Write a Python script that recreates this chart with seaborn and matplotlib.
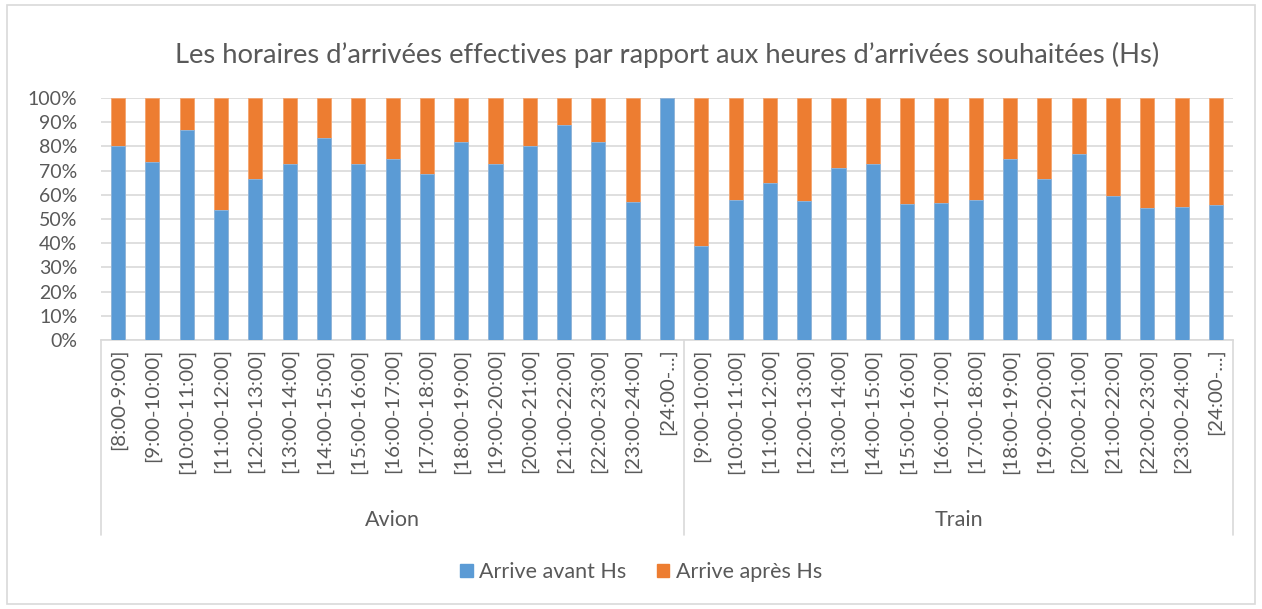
import matplotlib
matplotlib.use("Agg")
import matplotlib.pyplot as plt
from matplotlib.patches import Rectangle
import numpy as np
import pandas as pd
import seaborn as sns

## Data
avion_labels = ["[8:00-9:00]", "[9:00-10:00]", "[10:00-11:00]", "[11:00-12:00]",
                "[12:00-13:00]", "[13:00-14:00]", "[14:00-15:00]", "[15:00-16:00]",
                "[16:00-17:00]", "[17:00-18:00]", "[18:00-19:00]", "[19:00-20:00]",
                "[20:00-21:00]", "[21:00-22:00]", "[22:00-23:00]", "[23:00-24:00]",
                "[24:00-...]"]
avion_avant = [80, 73.6, 86.6, 53.7, 66.5, 72.6, 83.3, 72.6, 75, 68.7, 82, 72.6, 80, 88.8, 82, 57, 100]

train_labels = ["[9:00-10:00]", "[10:00-11:00]", "[11:00-12:00]", "[12:00-13:00]",
                "[13:00-14:00]", "[14:00-15:00]", "[15:00-16:00]", "[16:00-17:00]",
                "[17:00-18:00]", "[18:00-19:00]", "[19:00-20:00]", "[20:00-21:00]",
                "[21:00-22:00]", "[22:00-23:00]", "[23:00-24:00]", "[24:00-...]"]
train_avant = [38.7, 58, 64.9, 57.3, 71.1, 72.9, 56.3, 56.6, 57.8, 75, 66.7, 77, 59.5, 54.6, 55, 55.6]

groups = ["Avion", "Train"]
series = ["Arrive avant Hs", "Arrive après Hs"]

## Build table
df = pd.DataFrame({
    "label": avion_labels + train_labels,
    "groupe": [groups[0]] * len(avion_labels) + [groups[1]] * len(train_labels),
    "avant": avion_avant + train_avant,
})
df["pos"] = np.arange(len(df))
df["total"] = 100.0  # avant + apres stacked to 100%

blue = "#5B9BD5"
orange = "#ED7D31"
txt = "#595959"
grid = "#D9D9D9"

sns.set_style("white")
plt.rcParams["font.family"] = ["Lato", "DejaVu Sans"]

fig = plt.figure(figsize=(12.62, 6.09), dpi=100)
ax = fig.add_axes([101 / 1262, 1 - 340 / 609, (1233 - 101) / 1262, (340 - 98) / 609])

# orange bar (full height) then blue bar on top of it
sns.barplot(data=df, x="pos", y="total", color=orange, width=0.41, ax=ax,
            saturation=1, edgecolor="#F4A46E", linewidth=0.6, zorder=2)
sns.barplot(data=df, x="pos", y="avant", color=blue, width=0.41, ax=ax,
            saturation=1, edgecolor="#8DB9E3", linewidth=0.6, zorder=3)

ax.set_ylim(0, 100)
ax.set_xlim(-0.5, len(df) - 0.5)
ax.set_yticks(np.arange(0, 101, 10))
ax.set_yticklabels([f"{v}%" for v in range(0, 101, 10)], color=txt, fontsize=14)
ax.yaxis.grid(True, color=grid, linewidth=1.2, zorder=0)
ax.set_axisbelow(True)

ax.set_xticks(df["pos"])
ax.set_xticklabels(df["label"], rotation=90, color=txt, fontsize=14.7, va="top")
ax.tick_params(axis="both", length=0, pad=6)
ax.tick_params(axis="y", pad=17)
ax.set_xlabel("")
ax.set_ylabel("")

for s in ["top", "right", "left"]:
    ax.spines[s].set_visible(False)
ax.spines["bottom"].set_color(grid)
ax.spines["bottom"].set_linewidth(1.2)

# multi-level category axis: separators and group names
tr = ax.get_xaxis_transform()
n_av = len(avion_labels)
for xb in [-0.5, n_av - 0.5, len(df) - 0.5]:
    ax.plot([xb, xb], [0, -0.805], transform=tr, color=grid, linewidth=1.2, clip_on=False)
ax.text((n_av - 1) / 2, -0.745, groups[0], transform=tr, ha="center", va="center",
        color=txt, fontsize=15.5)
ax.text(n_av + (len(train_labels) - 1) / 2, -0.745, groups[1], transform=tr,
        ha="center", va="center", color=txt, fontsize=15.5)

# title, centred over the plot area
fig.text(667 / 1262, 1 - 55 / 609, "Les horaires d\u2019arrivées effectives par rapport aux heures d\u2019arrivées souhaitées (Hs)",
         ha="center", va="center", color=txt, fontsize=19.7)

# legend
handles = [Rectangle((0, 0), 1, 1, color=blue), Rectangle((0, 0), 1, 1, color=orange)]
fig.legend(handles, series, loc="center", bbox_to_anchor=(641 / 1262, 1 - 572 / 609), ncol=2,
           frameon=False, fontsize=15.5, handlelength=0.6, handleheight=0.6,
           handletextpad=0.3, columnspacing=1.4, labelcolor=txt)

# chart border
fig.patches.append(Rectangle((7 / 1262, 5 / 609), (1255 - 7) / 1262, (604 - 5) / 609,
                             transform=fig.transFigure, fill=False, edgecolor=grid,
                             linewidth=1.2))

fig.savefig("out.png", dpi=100, facecolor="white")
